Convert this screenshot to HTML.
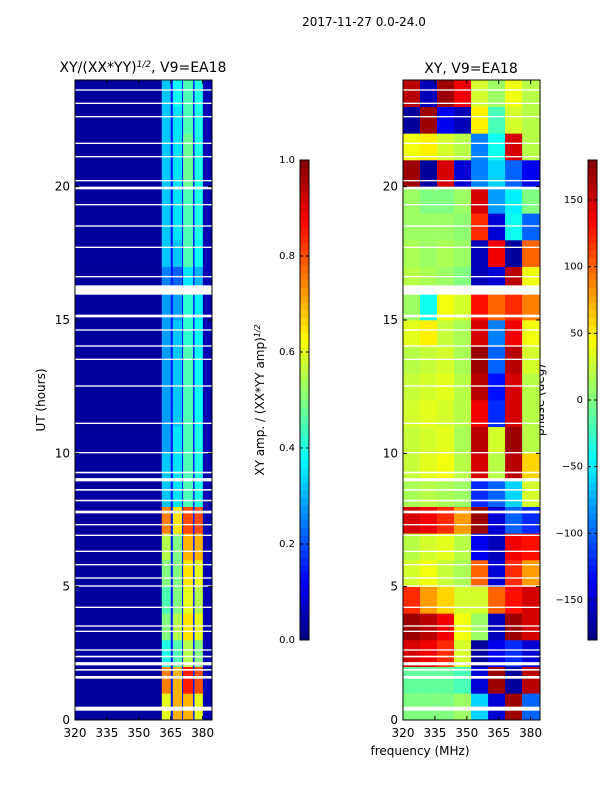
<!DOCTYPE html>
<html><head><meta charset="utf-8"><style>
body{margin:0;background:#fff;font-family:"Liberation Sans",sans-serif}
svg text{font-family:"DejaVu Sans","Liberation Sans",sans-serif;font-size:12px;fill:#000}
</style></head><body>
<svg id="fig" width="600" height="800" xmlns="http://www.w3.org/2000/svg">
<rect width="600" height="800" fill="#fff"/>
<text x="364" y="26" text-anchor="middle" font-size="13">2017-11-27 0.0-24.0</text>
<text x="143" y="72" text-anchor="middle" font-size="14" style="font-size:14px">XY/(XX*YY)<tspan baseline-shift="super" font-size="9" style="font-size:9px;font-style:italic">1/2</tspan>, V9=EA18</text>
<text x="471" y="73" text-anchor="middle" style="font-size:14px">XY, V9=EA18</text>
<text transform="translate(45,400) rotate(-90)" text-anchor="middle">UT (hours)</text>
<text x="420" y="755" text-anchor="middle">frequency (MHz)</text>
<text transform="translate(264,400) rotate(-90)" text-anchor="middle">XY amp. / (XX*YY amp)<tspan baseline-shift="super" style="font-size:8px;font-style:italic">1/2</tspan></text>
<text transform="translate(544,400) rotate(-90)" text-anchor="middle">phase (deg)</text>
<g id="layer"></g>
</svg>
<script>
const ampEdges=[320,360.8,365,366,370.3,370.8,375.5,376.2,380.1,384.4];
// per hour: stripes A,B,C,D (0..1)
const ampStripes=[[0.6,0.7,0.7,0.6],[0.75,0.7,0.85,0.8],[0.4,0.45,0.55,0.5],[0.5,0.55,0.65,0.6],[0.45,0.5,0.6,0.55],[0.5,0.5,0.65,0.6],[0.55,0.5,0.7,0.7],[0.75,0.65,0.8,0.8],[0.32,0.35,0.45,0.4],[0.32,0.35,0.45,0.4],[0.28,0.35,0.45,0.4],[0.28,0.32,0.45,0.38],[0.28,0.32,0.45,0.38],[0.28,0.32,0.45,0.38],[0.28,0.32,0.42,0.38],[0.28,0.28,0.42,0.36],[0.25,0.22,0.35,0.3],[0.32,0.32,0.45,0.38],[0.32,0.35,0.45,0.4],[0.32,0.35,0.45,0.4],[0.32,0.35,0.48,0.4],[0.32,0.35,0.48,0.4],[0.32,0.35,0.45,0.4],[0.32,0.38,0.45,0.4]];
const ampBase=0.03, ampTail=0.05, ampGap=0.15;
const phaseEdges=[320,328,336,344,352,360,368,376,384.4];
const phaseRows=[[0,0,0,10,-60,-150,170,-100],[-10,-10,-10,-20,-150,170,-170,160],[150,140,120,30,-170,-140,-120,-150],[170,160,140,40,10,-160,170,150],[120,80,60,30,30,100,130,150],[30,40,25,15,100,-150,120,80],[20,30,35,20,-140,-160,140,130],[150,140,120,80,170,-150,-100,-120],[15,20,15,10,-120,-100,-60,30],[25,35,40,20,150,20,160,60],[25,30,35,15,160,30,170,20],[30,35,30,20,140,-120,150,20],[25,30,35,20,160,-130,150,20],[20,25,30,15,170,-100,160,30],[35,50,25,15,150,-90,140,40],[10,-40,40,30,130,100,120,90],[20,15,10,0,-160,-150,160,40],[15,10,15,10,-160,140,-170,100],[10,10,10,5,120,-150,-40,-100],[10,0,0,10,150,-80,-50,0],[170,-170,150,-150,-90,-60,-100,-140],[40,50,30,20,-90,-40,150,20],[-170,170,-140,-160,50,-20,30,20],[160,-160,170,140,30,10,40,20]];
const gaps=[[0.35,0.15],[1.55,0.1],[1.85,0.06],[2.05,0.12],[2.35,0.06],[2.6,0.05],[3.3,0.05],[3.5,0.05],[4.2,0.05],[5.0,0.05],[5.3,0.05],[5.8,0.05],[6.3,0.05],[6.9,0.05],[7.3,0.05],[7.75,0.1],[8.2,0.06],[8.6,0.06],[8.95,0.12],[9.25,0.06],[10.0,0.05],[11.1,0.05],[12.5,0.05],[13.5,0.05],[14.0,0.05],[14.6,0.05],[15.1,0.1],[15.95,0.35],[16.6,0.05],[17.7,0.05],[18.5,0.05],[19.3,0.05],[19.9,0.1],[20.2,0.05],[21.1,0.05],[21.6,0.05],[22.6,0.05],[23.1,0.05],[23.6,0.05]];
const yTicks=[0,5,10,15,20];
const xTicks=[320,335,350,365,380];
const ampTicks=[0.0,0.2,0.4,0.6,0.8,1.0];
const phaseTicks=[-150,-100,-50,0,50,100,150];

const NS="http://www.w3.org/2000/svg";
const layer=document.getElementById('layer');
function jet(v){v=Math.max(0,Math.min(1,v));
 const c=x=>Math.round(255*Math.max(0,Math.min(1,x)));
 const r=1.5-Math.abs(4*v-3),g=1.5-Math.abs(4*v-2),b=1.5-Math.abs(4*v-1);
 return `rgb(${c(r)},${c(g)},${c(b)})`;}
function el(tag,attrs,parent){const e=document.createElementNS(NS,tag);for(const k in attrs)e.setAttribute(k,attrs[k]);(parent||layer).appendChild(e);return e;}
const Y0=720,Y1=80,HMAX=24;
const yS=h=>Y0-(h/HMAX)*(Y0-Y1);
function xS(x0,x1){return f=>x0+(f-320)/(384.4-320)*(x1-x0);}
const L={x0:75,x1:212}, R={x0:403,x1:540};
const xL=xS(L.x0,L.x1), xR=xS(R.x0,R.x1);

ampStripes.forEach((row,h)=>{
 const vals=[ampBase,row[0],ampGap,row[1],ampGap,row[2],ampGap,row[3],ampTail];
 vals.forEach((v,i)=>{
  const r=el('rect',{x:xL(ampEdges[i]),y:yS(h+1),width:xL(ampEdges[i+1])-xL(ampEdges[i])+0.3,height:yS(h)-yS(h+1)+0.3,fill:jet(v)});
  
  
 });
});
phaseRows.forEach((row,h)=>{
 row.forEach((v,i)=>{
  const r=el('rect',{x:xR(phaseEdges[i]),y:yS(h+1),width:xR(phaseEdges[i+1])-xR(phaseEdges[i])+0.3,height:yS(h)-yS(h+1)+0.3,fill:jet((v+180)/360)});
  
  
 });
});
[L,R].forEach(P=>{gaps.forEach(g=>{
 const r=el('rect',{x:P.x0,y:yS(g[0]+g[1]),width:P.x1-P.x0,height:Math.max(1.2,yS(g[0])-yS(g[0]+g[1])),fill:'#fff'});
 
 
});});
[[L,xL,'left'],[R,xR,'right']].forEach(([P,xs,nm])=>{
 const f=el('rect',{x:P.x0,y:Y1,width:P.x1-P.x0,height:Y0-Y1,fill:'none',stroke:'#000','stroke-width':1});
 
 
 yTicks.forEach(t=>{
  el('line',{x1:P.x0,x2:P.x0+4,y1:yS(t),y2:yS(t),stroke:'#000'});
  el('line',{x1:P.x1,x2:P.x1-4,y1:yS(t),y2:yS(t),stroke:'#000'});
  const tx=el('text',{x:P.x0-5,y:yS(t)+4,'text-anchor':'end'});tx.textContent=t;
  
  
 });
 xTicks.forEach(t=>{
  el('line',{x1:xs(t),x2:xs(t),y1:Y0,y2:Y0-4,stroke:'#000'});
  el('line',{x1:xs(t),x2:xs(t),y1:Y1,y2:Y1+4,stroke:'#000'});
  const tx=el('text',{x:xs(t),y:Y0+17,'text-anchor':'middle'});tx.textContent=t;
  
  
 });
});
function colorbar(x,ticks,lo,hi,nm,fmt){
 const n=64,top=160,bot=640;
 for(let i=0;i<n;i++){
  const r=el('rect',{x:x,y:bot-(i+1)*(bot-top)/n,width:9,height:(bot-top)/n+0.5,fill:jet((i+0.5)/n)});
  
  
 }
 const f=el('rect',{x:x,y:top,width:9,height:bot-top,fill:'none',stroke:'#000'});
 
 
 ticks.forEach(t=>{
  const y=bot-(t-lo)/(hi-lo)*(bot-top);
  el('line',{x1:x,x2:x+3,y1:y,y2:y,stroke:'#000'});
  el('line',{x1:x+9,x2:x+6,y1:y,y2:y,stroke:'#000'});
  const tx=el('text',{x:x-5,y:y+3,'text-anchor':'end',style:'font-size:10px'});tx.textContent=fmt(t);
  
  
 });
}
colorbar(300,ampTicks,0,1,'amp-colorbar',t=>t.toFixed(1));
colorbar(588,phaseTicks,-180,180,'phase-colorbar',t=>t<0?'\u2212'+(-t):String(t));
</script>
</body></html>
